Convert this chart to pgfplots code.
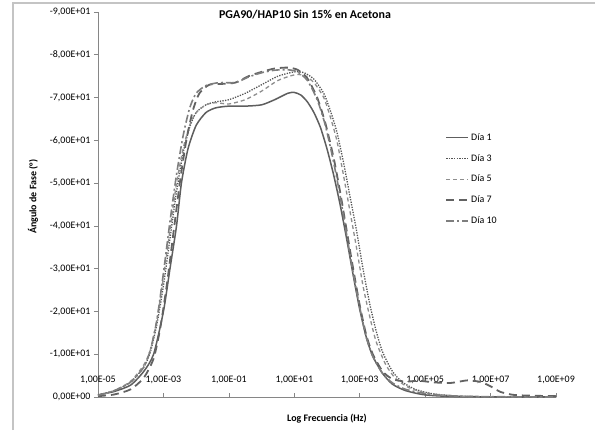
\documentclass[border=0pt]{standalone}
\usepackage{pgfplots}
\pgfplotsset{compat=1.18}
\usepackage{fontspec}
\setmainfont{Carlito}
\definecolor{axgray}{HTML}{868686}
\definecolor{frame}{HTML}{C4C4C4}
\definecolor{c1}{HTML}{5E5E5E}
\definecolor{c3}{HTML}{555555}
\definecolor{c5}{HTML}{8E8E8E}
\definecolor{c7}{HTML}{626262}
\definecolor{c10}{HTML}{7E7E7E}
\begin{document}
\begin{tikzpicture}[x=1bp,y=1bp]
\useasboundingbox (-98,-33) rectangle (497,397);
\draw[frame,line width=1.2bp] (-85,-33) -- (-85,394) -- (497,394);
\begin{axis}[
  at={(0,0)}, anchor=south west,
  scale only axis, width=458bp, height=385bp,
  xmin=-5, xmax=9, ymin=-90, ymax=0,
  y dir=reverse,
  axis x line*=bottom, axis y line*=left,
  axis line style={axgray, line width=0.8bp},
  font=\fontsize{10}{12}\selectfont,
  /pgf/number format/assume math mode=true,
  xtick={-5,-3,-1,1,3,5,7,9},
  xticklabels={{1,00E-05},{1,00E-03},{1,00E-01},{1,00E+01},{1,00E+03},{1,00E+05},{1,00E+07},{1,00E+09}},
  xticklabel style={anchor=base, yshift=15bp, fill=none},
  x tick style={axgray, line width=0.6bp},
  xtick align=inside, major tick length=4bp,
  ytick={-90,-80,-70,-60,-50,-40,-30,-20,-10,0},
  yticklabels={{-9,00E+01},{-8,00E+01},{-7,00E+01},{-6,00E+01},{-5,00E+01},{-4,00E+01},{-3,00E+01},{-2,00E+01},{-1,00E+01},{0,00E+00}},
  y tick style={axgray, line width=0.6bp},
  ytick align=outside,
  title={PGA90/HAP10 Sin 15\% en Acetona},
  title style={at={(axis description cs:0.452,0.979)}, anchor=center, font=\bfseries\fontsize{12}{14}\selectfont},
  xlabel={Log Frecuencia (Hz)},
  xlabel style={at={(axis description cs:0.5,-0.055)}, anchor=center, font=\bfseries\fontsize{10}{12}\selectfont},
  ylabel={Ángulo de Fase (°)},
  ylabel style={at={(axis description cs:-0.142,0.52)}, anchor=center, rotate=0, font=\bfseries\fontsize{10}{12}\selectfont},
  legend style={at={(axis description cs:0.758,0.69)}, anchor=north west, draw=none, fill=none,
     font=\fontsize{10}{12}\selectfont, row sep=8.5bp, inner sep=0pt},
  legend cell align=left,
  legend image code/.code={\draw[#1] (0bp,0bp) -- (22bp,0bp);},
  every axis plot/.append style={smooth, tension=0.4},
  clip=false,
]
\addplot[c1, line width=1.5bp] coordinates {
(-5,-0.5) (-4.5,-1.3) (-4,-2.8) (-3.6,-6) (-3.3,-10) (-3.0,-20) (-2.8,-30) (-2.6,-40) (-2.45,-50) (-2.25,-58) (-2.0,-63.5) (-1.7,-66.5) (-1.4,-67.6) (-1.0,-68) (-0.5,-68) (0,-68.3) (0.4,-69.5) (0.8,-71) (1.0,-71.2) (1.2,-70.6) (1.4,-69) (1.6,-66.5) (1.8,-63) (2.0,-58) (2.2,-52) (2.4,-45) (2.6,-37) (2.8,-28.5) (3.0,-20.5) (3.2,-14) (3.4,-9.5) (3.7,-5.5) (4.0,-3) (4.4,-1.5) (5.0,-0.5) (6.0,-0.1) (9,0)
};
\addlegendentry{Día 1}
\addplot[c3, line width=1.3bp, dash pattern=on 1.3bp off 1.3bp] coordinates {
(-5,-0.5) (-4.5,-1.5) (-4,-3.5) (-3.6,-7) (-3.4,-10.5) (-3.2,-17) (-3.0,-26) (-2.8,-37) (-2.6,-48) (-2.4,-57) (-2.2,-63) (-2.0,-66.5) (-1.7,-68.3) (-1.4,-69) (-1.0,-69.5) (-0.5,-71) (0,-73) (0.5,-75) (1.0,-76) (1.3,-75.8) (1.6,-74.3) (1.9,-71) (2.1,-67) (2.3,-62) (2.5,-55) (2.7,-47) (2.9,-39) (3.1,-30) (3.3,-22) (3.5,-15.5) (3.7,-10.5) (4.0,-6) (4.3,-3.5) (4.7,-1.8) (5.2,-0.8) (6.0,-0.2) (7,-0.05) (9,0)
};
\addlegendentry{Día 3}
\addplot[c5, line width=1.3bp, dash pattern=on 4bp off 3bp] coordinates {
(-5,-0.3) (-4.5,-1.5) (-4,-3.7) (-3.6,-7.5) (-3.4,-11) (-3.2,-18) (-3.0,-28) (-2.8,-39) (-2.6,-50) (-2.4,-58) (-2.2,-63.5) (-2.0,-66.5) (-1.7,-68.3) (-1.4,-68.8) (-1.0,-68.5) (-0.5,-69.5) (0,-71.5) (0.5,-74) (1.0,-75.3) (1.3,-75.2) (1.6,-73.5) (1.9,-70) (2.1,-65.5) (2.3,-60) (2.5,-52) (2.7,-43.5) (2.9,-35) (3.1,-26) (3.3,-19) (3.5,-13) (3.8,-7.5) (4.1,-4.3) (4.5,-2.2) (5.0,-1) (5.5,-0.5) (6.5,-0.1) (9,0)
};
\addlegendentry{Día 5}
\addplot[c7, line width=1.8bp, dash pattern=on 8bp off 5bp] coordinates {
(-5,-0.2) (-4.5,-0.6) (-4,-1.8) (-3.6,-4.5) (-3.3,-9) (-3.1,-16) (-2.9,-26) (-2.7,-38) (-2.5,-50) (-2.3,-60) (-2.1,-67) (-1.9,-71) (-1.6,-73) (-1.2,-73.2) (-0.8,-73.5) (-0.4,-75) (0,-76) (0.4,-76.8) (0.8,-77) (1.1,-76.5) (1.4,-74.5) (1.7,-70) (1.95,-64) (2.2,-56) (2.4,-48) (2.6,-39) (2.8,-30) (3.0,-21.5) (3.2,-14.5) (3.4,-10) (3.7,-6) (4.0,-4.2) (4.4,-3.6) (4.8,-3.8) (5.3,-3.4) (5.8,-3.3) (6.3,-3.9) (6.7,-3.5) (7.0,-2.5) (7.3,-1.2) (7.7,-0.5) (8.3,-0.3) (9,-0.2)
};
\addlegendentry{Día 7}
\addplot[c10, line width=1.6bp, dash pattern=on 8bp off 3bp on 2bp off 3bp] coordinates {
(-5,-0.4) (-4.5,-1.5) (-4,-3.5) (-3.6,-7) (-3.4,-11) (-3.2,-18) (-3.0,-29) (-2.8,-41) (-2.6,-52) (-2.4,-61) (-2.2,-67.5) (-2.0,-71) (-1.7,-72.8) (-1.3,-73.5) (-0.8,-73.5) (-0.4,-74.8) (0,-75.8) (0.4,-76.4) (0.8,-76.5) (1.1,-76) (1.4,-74) (1.7,-69.5) (1.95,-63.5) (2.2,-55) (2.4,-47) (2.6,-38) (2.8,-29) (3.0,-21) (3.2,-14) (3.4,-9.5) (3.7,-5.5) (4.0,-3.3) (4.4,-1.8) (5.0,-0.8) (5.5,-0.4) (6.5,-0.1) (9,0)
};
\addlegendentry{Día 10}
\end{axis}
\end{tikzpicture}
\end{document}
